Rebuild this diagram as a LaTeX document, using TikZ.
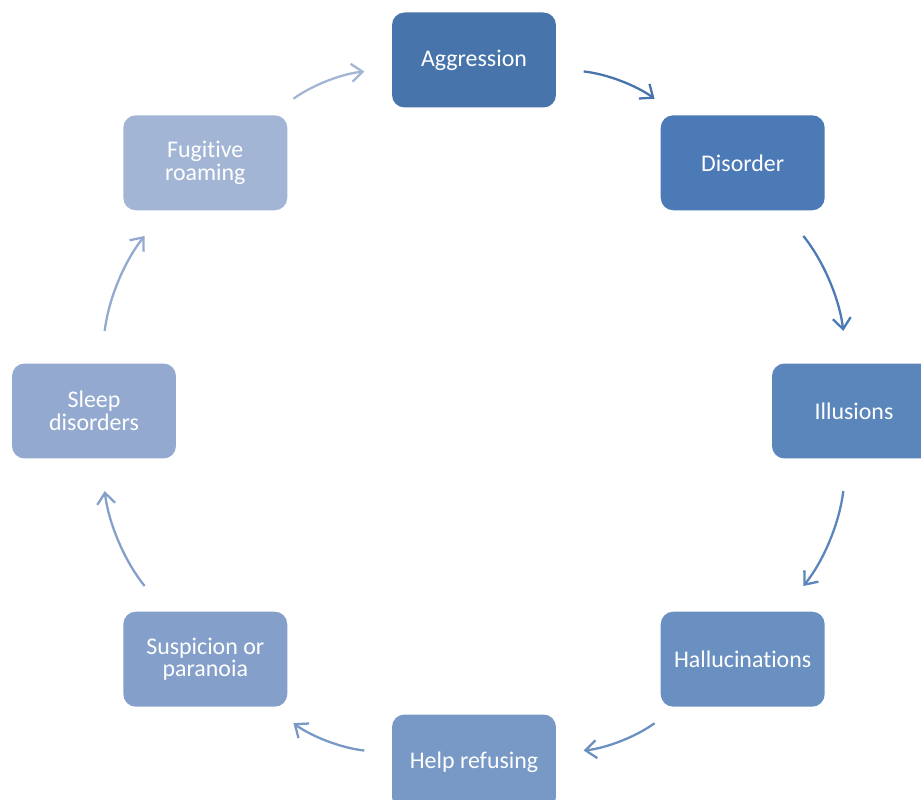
\documentclass[tikz,border=0pt]{standalone}
\usepackage{fontspec}
\setmainfont[RawFeature=-liga]{Carlito}
\usetikzlibrary{arrows.meta}

\definecolor{cAgg}{HTML}{4774AA}
\definecolor{cDis}{HTML}{4B7AB6}
\definecolor{cIll}{HTML}{5A86BC}
\definecolor{cHal}{HTML}{6990C1}
\definecolor{cHelp}{HTML}{7898C6}
\definecolor{cSus}{HTML}{84A0CA}
\definecolor{cSle}{HTML}{93A9CF}
\definecolor{cFug}{HTML}{A2B5D5}

\begin{document}
\begin{tikzpicture}[x=0.02cm, y=0.02cm, >={Straight Barb[length=0.22cm,width=0.36cm]},
    font=\fontsize{13.6}{13}\selectfont,
    stage/.style={rounded corners=0.25cm, minimum width=3.28cm, minimum height=1.9cm,
        fill=#1, text=white, align=center, inner sep=2pt},
    cyc/.style={->, line width=1.3pt, draw=#1, shorten <=0.55cm, shorten >=0.55cm}]
    \useasboundingbox (-474,-389) rectangle (447,411);
    \clip (-474,-389) rectangle (447,411);
    % stages round the ellipse
    \node[stage=cAgg]  (agg)  at (90:380 and 351)   {Aggression};
    \node[stage=cDis]  (dis)  at (45:380 and 351)   {Disorder};
    \node[stage=cIll]  (ill)  at (0:380 and 351)    {Illusions};
    \node[stage=cHal]  (hal)  at (-45:380 and 351)  {Hallucinations};
    \node[stage=cHelp] (help) at (-90:380 and 351)  {Help refusing};
    \node[stage=cSus]  (sus)  at (-135:380 and 351) {Suspicion or\\paranoia};
    \node[stage=cSle]  (sle)  at (180:380 and 351)  {Sleep\\disorders};
    \node[stage=cFug]  (fug)  at (135:380 and 351)  {Fugitive\\roaming};
    % cycle arrows
    \draw[cyc=cAgg]  (agg)  to[bend left=15] (dis);
    \draw[cyc=cDis, shorten <=0.65cm, shorten >=0.65cm]  (dis)  to[bend left=16] (ill);
    \draw[cyc=cIll, shorten <=0.65cm, shorten >=0.65cm]  (ill)  to[bend left=16] (hal);
    \draw[cyc=cHal]  (hal)  to[bend left=15] (help);
    \draw[cyc=cHelp] (help) to[bend left=15] (sus);
    \draw[cyc=cSus, shorten <=0.65cm, shorten >=0.65cm]  (sus)  to[bend left=16] (sle);
    \draw[cyc=cSle, shorten <=0.65cm, shorten >=0.65cm]  (sle)  to[bend left=16] (fug);
    \draw[cyc=cFug]  (fug)  to[bend left=15] (agg);
\end{tikzpicture}
\end{document}
